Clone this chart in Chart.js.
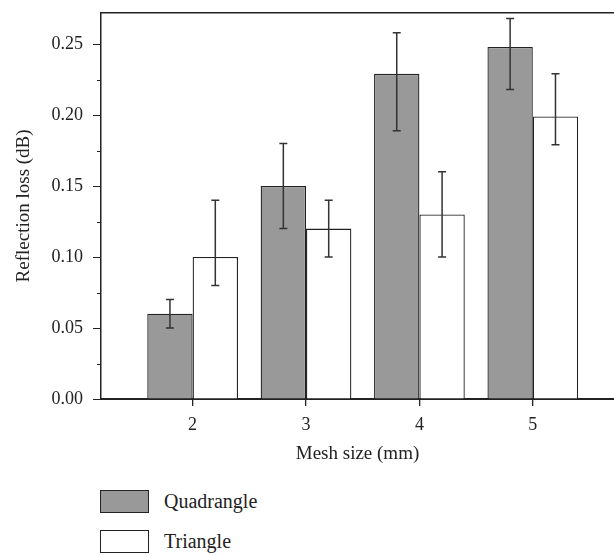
<!DOCTYPE html>
<html>
<head>
<meta charset="utf-8">
<script src="https://cdn.jsdelivr.net/npm/chart.js@4"></script>
<style>
  body { margin:0; background:#fff; overflow:hidden; }
  #wrap { position:relative; width:614px; height:556px; overflow:hidden; }
  #chart_box { position:absolute; left:0; top:-8px; width:614px; height:473px; }
  #legend { position:absolute; left:100px; top:489px; font-family:"Liberation Serif", serif; font-size:20px; color:#222; }
  .lg_row { display:flex; align-items:center; height:24px; margin-bottom:16px; }
  .lg_box { width:49px; height:23px; border:1.3px solid #222; margin-right:15px; box-sizing:border-box; }
</style>
</head>
<body>
<div id="wrap">
  <div id="chart_box"><canvas id="barChart"></canvas></div>
  <div id="legend"></div>
</div>
<script>
var meshSizes = [2, 3, 4, 5];
var quadValues = [0.06, 0.15, 0.229, 0.248];
var quadLow    = [0.05, 0.12, 0.189, 0.218];
var quadHigh   = [0.07, 0.18, 0.258, 0.268];
var triValues  = [0.10, 0.12, 0.13, 0.199];
var triLow     = [0.08, 0.10, 0.10, 0.179];
var triHigh    = [0.14, 0.14, 0.16, 0.229];

var axisColor = '#222';
var serif = '"Liberation Serif", "DejaVu Serif", serif';

function toPoints(vals){
  return vals.map(function(v, i){ return {x: meshSizes[i], y: v}; });
}
function isMajor(v){
  return Math.abs(v / 0.05 - Math.round(v / 0.05)) < 1e-6;
}

// error bars + minor ticks + top frame line
var extrasPlugin = {
  id: 'extras',
  afterDatasetsDraw: function(chart){
    var ctx = chart.ctx;
    var yScale = chart.scales.y;
    var area = chart.chartArea;
    ctx.save();
    var errs = [[quadLow, quadHigh], [triLow, triHigh]];
    errs.forEach(function(pair, di){
      var meta = chart.getDatasetMeta(di);
      meta.data.forEach(function(bar, i){
        var x = bar.x;
        var yl = yScale.getPixelForValue(pair[0][i]);
        var yh = yScale.getPixelForValue(pair[1][i]);
        ctx.strokeStyle = '#333';
        ctx.lineWidth = 1.5;
        ctx.beginPath();
        ctx.moveTo(x, yl); ctx.lineTo(x, yh);
        ctx.moveTo(x - 4, yl); ctx.lineTo(x + 4, yl);
        ctx.moveTo(x - 4, yh); ctx.lineTo(x + 4, yh);
        ctx.stroke();
      });
    });
    // minor y ticks
    ctx.strokeStyle = axisColor;
    ctx.lineWidth = 1;
    yScale.ticks.forEach(function(t){
      if (isMajor(t.value)) return;
      var y = Math.round(yScale.getPixelForValue(t.value)) + 0.5;
      ctx.beginPath();
      ctx.moveTo(area.left - 4, y); ctx.lineTo(area.left, y);
      ctx.stroke();
    });
    // top frame line
    ctx.lineWidth = 1.5;
    ctx.beginPath();
    ctx.moveTo(area.left, area.top); ctx.lineTo(area.right, area.top);
    ctx.stroke();
    ctx.restore();
  }
};

var barCtx = document.getElementById('barChart').getContext('2d');
var barChart = new Chart(barCtx, {
  type: 'bar',
  data: {
    datasets: [
      {
        label: 'Quadrangle',
        data: toPoints(quadValues),
        backgroundColor: '#999999',
        borderColor: axisColor,
        borderWidth: 1.3,
        categoryPercentage: 0.8,
        barPercentage: 1.0
      },
      {
        label: 'Triangle',
        data: toPoints(triValues),
        backgroundColor: '#ffffff',
        borderColor: axisColor,
        borderWidth: 1.3,
        categoryPercentage: 0.8,
        barPercentage: 1.0
      }
    ]
  },
  options: {
    responsive: true,
    maintainAspectRatio: false,
    animation: false,
    layout: { padding: { left: 0, right: 0, top: 0, bottom: 0 } },
    plugins: {
      legend: { display: false },
      tooltip: { enabled: false }
    },
    scales: {
      x: {
        type: 'linear',
        offset: false,
        min: 1.192,
        max: 5.716,
        afterBuildTicks: function(scale){
          scale.ticks = meshSizes.map(function(v){ return {value: v}; });
        },
        afterFit: function(scale){ scale.height = 66; },
        grid: { drawOnChartArea: false, offset: false, tickLength: 7, color: axisColor, lineWidth: 1.3 },
        border: { display: true, color: axisColor, width: 2 },
        ticks: {
          color: '#222',
          font: { family: serif, size: 18 },
          padding: 8,
          callback: function(v){ return String(v); }
        },
        title: {
          display: true,
          text: 'Mesh size (mm)',
          color: '#222',
          font: { family: serif, size: 19 },
          padding: { top: 2, bottom: 0 }
        }
      },
      y: {
        min: 0,
        max: 0.272,
        afterFit: function(scale){ scale.width = 101; },
        grid: {
          drawOnChartArea: false,
          tickLength: 8,
          lineWidth: 1,
          color: function(c){ return (c.tick && isMajor(c.tick.value)) ? axisColor : 'rgba(0,0,0,0)'; }
        },
        border: { display: true, color: axisColor, width: 1.5 },
        ticks: {
          stepSize: 0.025,
          includeBounds: false,
          color: '#222',
          font: { family: serif, size: 18 },
          padding: 10,
          callback: function(v){ return isMajor(v) ? v.toFixed(2) : ''; }
        },
        title: {
          display: true,
          text: 'Reflection loss (dB)',
          color: '#222',
          font: { family: serif, size: 19 },
          padding: { top: 13, bottom: 4 }
        }
      }
    }
  },
  plugins: [extrasPlugin]
});

// legend built from the chart datasets
var legendHtml = '';
barChart.data.datasets.forEach(function(ds){
  legendHtml += '<div class="lg_row"><div class="lg_box" style="background:' + ds.backgroundColor + '"></div><span>' + ds.label + '</span></div>';
});
document.getElementById('legend').innerHTML = legendHtml;
</script>
</body>
</html>
